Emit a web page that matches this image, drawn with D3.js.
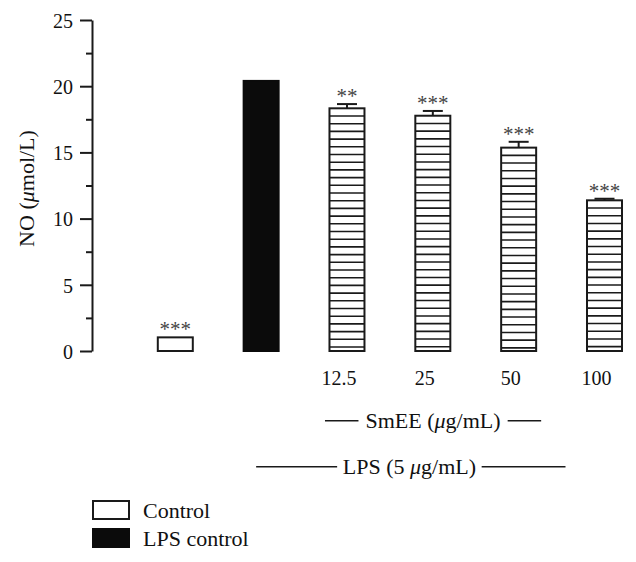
<!DOCTYPE html>
<html>
<head>
<meta charset="utf-8">
<script src="https://cdn.jsdelivr.net/npm/d3@7"></script>
<style>
  html, body { margin: 0; padding: 0; background: #fff; }
  svg { display: block; }
  text { font-family: "Liberation Serif", "Times New Roman", serif; fill: #111; }
</style>
</head>
<body>
<svg id="chart" width="636" height="562"></svg>
<script>
// ---- data ----
const categories = ["Control", "LPS control", "12.5", "25", "50", "100"];
const values     = [1.03, 20.4, 18.33, 17.77, 15.36, 11.38];
const errors     = [0, 0, 0.32, 0.36, 0.44, 0.12];
const stars      = ["***", "", "**", "***", "***", "***"];
const fills      = ["white", "black", "hatch", "hatch", "hatch", "hatch"];
const doseLabels = ["", "", "12.5", "25", "50", "100"];
const yTicks     = [0, 2.5, 5, 7.5, 10, 12.5, 15, 17.5, 20, 22.5, 25];
const yMajor     = [0, 5, 10, 15, 20, 25];
const legendItems = [{label: "Control", fill: "white"}, {label: "LPS control", fill: "black"}];

// ---- layout ----
const svg = d3.select("#chart");
const y = d3.scaleLinear().domain([0, 25]).range([351, 20]);
const x = d3.scalePoint().domain(categories).range([175.3, 604.5]);
const barW = 35;
const axisX = 92;
const ink = "#1a1a1a";

// y axis
const yAxis = d3.axisLeft(y).tickValues(yTicks).tickSizeOuter(0)
  .tickFormat(d => yMajor.includes(d) ? d3.format("d")(d) : "");
const gy = svg.append("g").attr("transform", `translate(${axisX},0)`).call(yAxis);
gy.select(".domain").attr("stroke", ink).attr("stroke-width", 2);
gy.selectAll(".tick line")
  .attr("stroke", ink).attr("stroke-width", 2)
  .attr("x2", d => yMajor.includes(d) ? -12 : -6);
gy.selectAll(".tick text")
  .attr("x", -19).attr("dy", "0.36em")
  .style("font-family", "Liberation Serif, serif")
  .style("font-size", "20px").attr("fill", ink);

// y label
const yl = svg.append("text")
  .attr("transform", `translate(34,${(y(0) + y(25)) / 2 + 3}) rotate(-90)`)
  .attr("text-anchor", "middle").style("font-size", "22px");
yl.append("tspan").text("NO (");
yl.append("tspan").attr("font-style", "italic").text("μ");
yl.append("tspan").text("mol/L)");

// bars
const data = categories.map((c, i) => ({c, v: values[i], e: errors[i], s: stars[i], f: fills[i]}));
const bars = svg.append("g");
data.forEach(d => {
  const cx = x(d.c), top = y(d.v), bot = y(0);
  const g = bars.append("g");
  g.append("rect")
    .attr("x", cx - barW / 2).attr("y", top)
    .attr("width", barW).attr("height", bot - top)
    .attr("fill", d.f === "black" ? "#0b0b0b" : "white")
    .attr("stroke", d.f === "black" ? "#0b0b0b" : ink).attr("stroke-width", 2);
  if (d.f === "hatch") {
    const step = 7.7;
    d3.range(top + step, bot - 1, step).forEach(yy => {
      g.append("line")
        .attr("x1", cx - barW / 2).attr("x2", cx + barW / 2)
        .attr("y1", yy).attr("y2", yy)
        .attr("stroke", ink).attr("stroke-width", 1.6);
    });
  }
  let capY = top;
  if (d.e > 0) {
    capY = y(d.v + d.e);
    g.append("line").attr("x1", cx).attr("x2", cx).attr("y1", top).attr("y2", capY)
      .attr("stroke", ink).attr("stroke-width", 2);
    g.append("line").attr("x1", cx - 10).attr("x2", cx + 10).attr("y1", capY).attr("y2", capY)
      .attr("stroke", ink).attr("stroke-width", 2);
  }
  if (d.s) {
    g.append("text").attr("x", cx).attr("y", capY - 1)
      .attr("text-anchor", "middle").style("font-size", "21px")
      .style("fill", "#444").text(d.s);
  }
});

// dose labels
svg.append("g").selectAll("text").data(categories.filter((c, i) => doseLabels[i]))
  .join("text")
  .attr("x", d => x(d) - 8).attr("y", 385)
  .attr("text-anchor", "middle").style("font-size", "20px")
  .text(d => doseLabels[categories.indexOf(d)]);

// group labels with lines
function groupLabel(cy, x1, x2, x3, x4, parts) {
  const g = svg.append("g");
  g.append("line").attr("x1", x1).attr("x2", x2).attr("y1", cy).attr("y2", cy)
    .attr("stroke", ink).attr("stroke-width", 1.5);
  g.append("line").attr("x1", x3).attr("x2", x4).attr("y1", cy).attr("y2", cy)
    .attr("stroke", ink).attr("stroke-width", 1.5);
  const t = g.append("text").attr("x", (x2 + x3) / 2).attr("y", cy + 7.5)
    .attr("text-anchor", "middle").style("font-size", "22px");
  parts.forEach(p => t.append("tspan").attr("font-style", p[1] ? "italic" : null).text(p[0]));
}
groupLabel(420.7, x("12.5") - 22, x("12.5") + 11.5, x("50") - 11, x("50") + 22.5,
  [["SmEE ("], ["μ", true], ["g/mL)"]]);
groupLabel(466.7, x("LPS control") - 5, x("LPS control") + 76, x("50") - 37, x("100") - 39,
  [["LPS (5 "], ["μ", true], ["g/mL)"]]);

// legend
const lg = svg.append("g");
legendItems.forEach((it, i) => {
  const yy = 501 + i * 28;
  lg.append("rect").attr("x", 93).attr("y", yy).attr("width", 36).attr("height", 18)
    .attr("fill", it.fill === "black" ? "#0b0b0b" : "white")
    .attr("stroke", it.fill === "black" ? "#0b0b0b" : ink).attr("stroke-width", 2);
  lg.append("text").attr("x", 143).attr("y", yy + 16.5)
    .style("font-size", "22px").text(it.label);
});
</script>
</body>
</html>
